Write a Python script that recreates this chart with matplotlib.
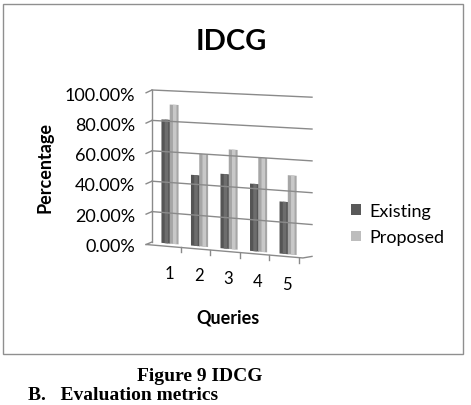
import numpy as np
import matplotlib
matplotlib.use('Agg')
import matplotlib.pyplot as plt
from matplotlib.patches import Patch, Rectangle
from matplotlib.transforms import Transform

# Values (percent).
queries = [1, 2, 3, 4, 5]
existing = [81, 46, 48, 43, 33]
proposed = [91, 60, 64, 60, 50]
y_ticks = [0, 20, 40, 60, 80, 100]
y_tick_labels = ['0.00%', '20.00%', '40.00%', '60.00%', '80.00%', '100.00%']

W, H = 471, 406
FONT = 'Lato'


class Tilt(Transform):
    # Fake Excel 3D look: push things down as they go right,
    # a bit more near the floor than near the top (perspective).
    input_dims = 2
    output_dims = 2
    is_separable = False
    has_inverse = False

    def __init__(self, x0, y0, h, k_low, k_high):
        super().__init__()
        self.x0, self.y0, self.h = x0, y0, h
        self.k_low, self.k_high = k_low, k_high

    def transform_non_affine(self, values):
        v = np.asarray(values, dtype=float).reshape(-1, 2)
        x, y = v[:, 0], v[:, 1]
        k = self.k_low + (self.k_high - self.k_low) * (y - self.y0) / self.h
        return np.column_stack([x, y - (x - self.x0) * k])


def fx(px):
    return px / W


def fy(px):
    return 1 - px / H


fig = plt.figure(figsize=(W / 100, H / 100), dpi=100)
fig.patch.set_facecolor('white')

# plot region (in pixels): wall from x=152 to 312, 0% at y=243, 100% at y=91
ax = fig.add_axes([fx(152), fy(243), 160 / W, 152 / H])
ax.axis('off')
ax.set_xlim(0.39, 5.81)
ax.set_ylim(0, 100)
ax.set_autoscale_on(False)

tilt = ax.transData + Tilt(152, H - 243, 152, 0.09, 0.045)
x_lo, x_hi = ax.get_xlim()
grid_col = '#8a8a8a'

# back wall gridlines and the little side-wall stubs
for v in y_ticks[1:]:
    ax.plot([x_lo, x_hi], [v, v], color=grid_col, lw=1, transform=tilt, clip_on=False)
for v in y_ticks:
    ax.plot([x_lo - 0.2, x_lo], [v - 2, v], color=grid_col, lw=1, transform=tilt, clip_on=False)
ax.plot([x_lo, x_lo], [0, 100], color=grid_col, lw=1, transform=tilt, clip_on=False)

# floor edge with the category ticks under it
ax.plot([x_lo - 0.2, 5.5, x_hi], [-2, -1.5, 0], color=grid_col, lw=1, transform=tilt, clip_on=False)
for q in queries:
    ax.plot([q + 0.37, q + 0.37], [-1.8, -5], color=grid_col, lw=1, transform=tilt, clip_on=False)

# bars, each with a lighter strip down the middle for the cylinder look
x = np.array(queries, dtype=float)
bw = 0.3
for off, vals, base, light in [(-0.14, existing, '#555555', '#6d6d6d'),
                              (0.14, proposed, '#a6a6a6', '#c8c8c8')]:
    ax.bar(x + off, vals, width=bw, color=base, transform=tilt, clip_on=False)
    ax.bar(x + off + 0.02, vals, width=bw * 0.4, color=light, transform=tilt, clip_on=False)

# tick labels
for v, lab in zip(y_ticks, y_tick_labels):
    ax.text(-0.19, v - 3.5, lab, ha='right', va='center', fontsize=13,
            family=FONT, color='black', transform=tilt)
for q in queries:
    ax.text(q - 0.03, -19, str(q), ha='center', va='center', fontsize=12,
            family=FONT, color='black', transform=tilt)

# titles
fig.text(fx(231), fy(42), 'IDCG', ha='center', va='center', fontsize=21,
         fontweight='bold', family=FONT)
fig.text(fx(45), fy(168), 'Percentage', ha='center', va='center', rotation=90,
         fontsize=13, fontweight='bold', family=FONT)
fig.text(fx(228), fy(318), 'Queries', ha='center', va='center', fontsize=13,
         fontweight='bold', family=FONT)

# legend
handles = [Patch(facecolor='#595959', label='Existing'),
           Patch(facecolor='#bdbdbd', label='Proposed')]
fig.legend(handles=handles, loc='center left', bbox_to_anchor=(fx(351), fy(225)),
           frameon=False, borderpad=0, borderaxespad=0, handlelength=0.55,
           handleheight=0.55, handletextpad=0.45, labelspacing=0.6,
           prop={'family': FONT, 'size': 13})

# chart frame
fig.add_artist(Rectangle((fx(3), fy(355)), 460 / W, 350 / H, transform=fig.transFigure,
                         fill=False, edgecolor='#8f8f8f', lw=1))

# caption underneath, as in the paper
fig.text(fx(200), fy(377), 'Figure 9 IDCG', ha='center', va='center', fontsize=14,
         fontweight='bold', family='Liberation Serif')
fig.text(fx(28), fy(400), 'B.   Evaluation metrics', ha='left', va='baseline', fontsize=14,
         fontweight='bold', family='Liberation Serif')

fig.savefig('out.png', dpi=100, facecolor='white')
